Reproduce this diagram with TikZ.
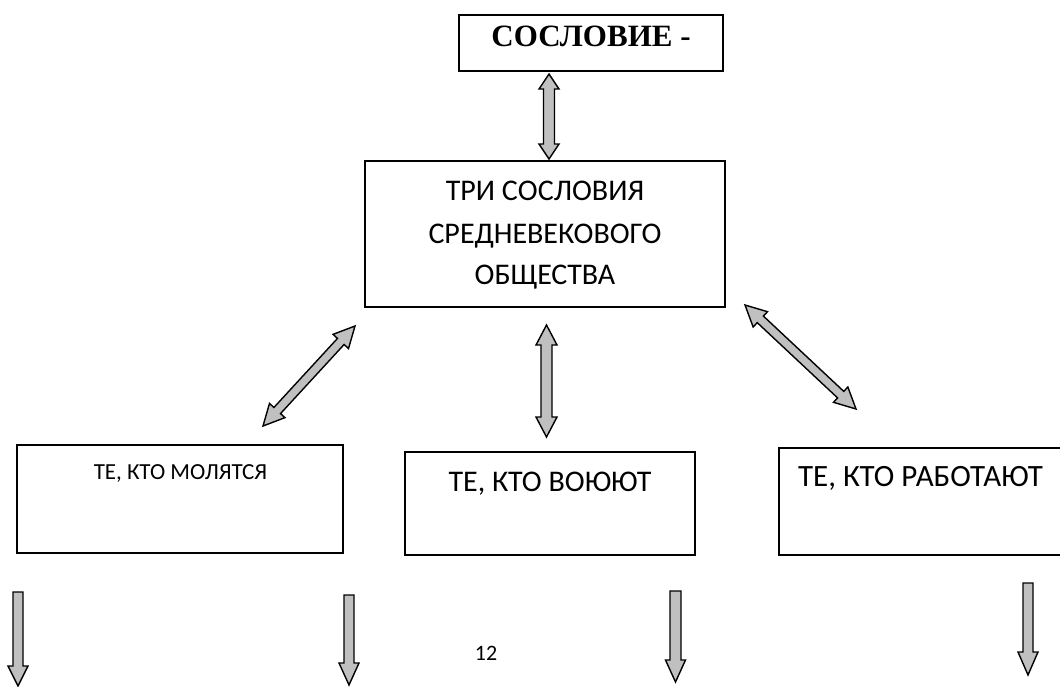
\documentclass[tikz,border=0pt]{standalone}
\usepackage{fontspec}
\setmainfont{Carlito}
\newfontfamily\serifbold{Liberation Serif}
\usetikzlibrary{calc}
\definecolor{arrowgray}{HTML}{C0C0C0}
\tikzset{
  boxnode/.style={draw=black, line width=1.8pt, inner sep=0pt},
  blockarr/.style={draw=black, line width=1.4pt, fill=arrowgray, line join=miter},
  txt/.style={anchor=base, inner sep=0pt, font=\fontsize{30}{36}\selectfont},
}
% double block arrow between two named coordinates: #1 #2 tips, #3 head length, #4 head half width, #5 shaft half width
\newcommand\dblblockarrow[5]{%
  \draw[blockarr] (#1)
    -- ($(#1)!#3!(#2)!#4!90:(#2)$)
    -- ($(#1)!#3!(#2)!#5!90:(#2)$)
    -- ($(#2)!#3!(#1)!#5!-90:(#1)$)
    -- ($(#2)!#3!(#1)!#4!-90:(#1)$)
    -- (#2)
    -- ($(#2)!#3!(#1)!#4!90:(#1)$)
    -- ($(#2)!#3!(#1)!#5!90:(#1)$)
    -- ($(#1)!#3!(#2)!#5!-90:(#2)$)
    -- ($(#1)!#3!(#2)!#4!-90:(#2)$)
    -- cycle;}
% single block arrow from #1 (tail) to #2 (tip)
\newcommand\oneblockarrow[5]{%
  \draw[blockarr] ($(#1)!#5!90:(#2)$)
    -- ($(#2)!#3!(#1)!#5!-90:(#1)$)
    -- ($(#2)!#3!(#1)!#4!-90:(#1)$)
    -- (#2)
    -- ($(#2)!#3!(#1)!#4!90:(#1)$)
    -- ($(#2)!#3!(#1)!#5!90:(#1)$)
    -- ($(#1)!#5!-90:(#2)$)
    -- cycle;}
\begin{document}
\begin{tikzpicture}[x=1pt,y=-1pt]
\useasboundingbox[fill=white] (0,0) rectangle (1060,686);
\clip (0,0) rectangle (1060,686);

% boxes
\node[boxnode, minimum width=264pt, minimum height=56pt] (top) at (591,43) {};
\node[boxnode, minimum width=360pt, minimum height=146pt] (mid) at (545,234) {};
\node[boxnode, minimum width=326pt, minimum height=108pt] (pray) at (180,499) {};
\node[boxnode, minimum width=290pt, minimum height=103pt] (fight) at (550,503.5) {};
\node[boxnode, minimum width=296pt, minimum height=107pt] (work) at (927,501.5) {};

% texts
\node[anchor=base, inner sep=0pt, font=\serifbold\bfseries\fontsize{31}{36}\selectfont] (ttop) at (591,46) {СОСЛОВИЕ -};
\node[txt] (m1) at (545,200) {ТРИ СОСЛОВИЯ};
\node[txt] (m2) at (545,243) {СРЕДНЕВЕКОВОГО};
\node[txt] (m3) at (545,284) {ОБЩЕСТВА};
\node[txt, font=\fontsize{23}{28}\selectfont] (tpray) at (180.5,479) {ТЕ, КТО МОЛЯТСЯ};
\node[txt] (tfight) at (550,491) {ТЕ, КТО ВОЮЮТ};
\node[txt, font=\fontsize{31}{36}\selectfont] (twork) at (920.5,486) {ТЕ, КТО РАБОТАЮТ};
\node[anchor=base, inner sep=0pt, font=\fontsize{22}{26}\selectfont] (pagenum) at (486,660) {12};

% arrow end points
\coordinate (a1) at (549,74);   \coordinate (a2) at (549,159);
\coordinate (b1) at (263,426);  \coordinate (b2) at (355,326);
\coordinate (c1) at (546.5,325); \coordinate (c2) at (546.5,437);
\coordinate (d1) at (745,305);  \coordinate (d2) at (856,409);

\dblblockarrow{a1}{a2}{15pt}{10pt}{5.5pt}
\dblblockarrow{b1}{b2}{21pt}{10.5pt}{4.5pt}
\dblblockarrow{c1}{c2}{20pt}{10.5pt}{5.5pt}
\dblblockarrow{d1}{d2}{21pt}{10.5pt}{4.5pt}

% down arrows
\coordinate (e1) at (18,592);    \coordinate (e2) at (18,686);
\coordinate (f1) at (349,595);   \coordinate (f2) at (349,685);
\coordinate (g1) at (675.5,591); \coordinate (g2) at (675.5,682);
\coordinate (h1) at (1028,583);  \coordinate (h2) at (1028,675);

\oneblockarrow{e1}{e2}{20pt}{10pt}{5pt}
\oneblockarrow{f1}{f2}{22pt}{10pt}{5pt}
\oneblockarrow{g1}{g2}{22pt}{10pt}{5.5pt}
\oneblockarrow{h1}{h2}{23pt}{10pt}{5pt}
\end{tikzpicture}
\end{document}
